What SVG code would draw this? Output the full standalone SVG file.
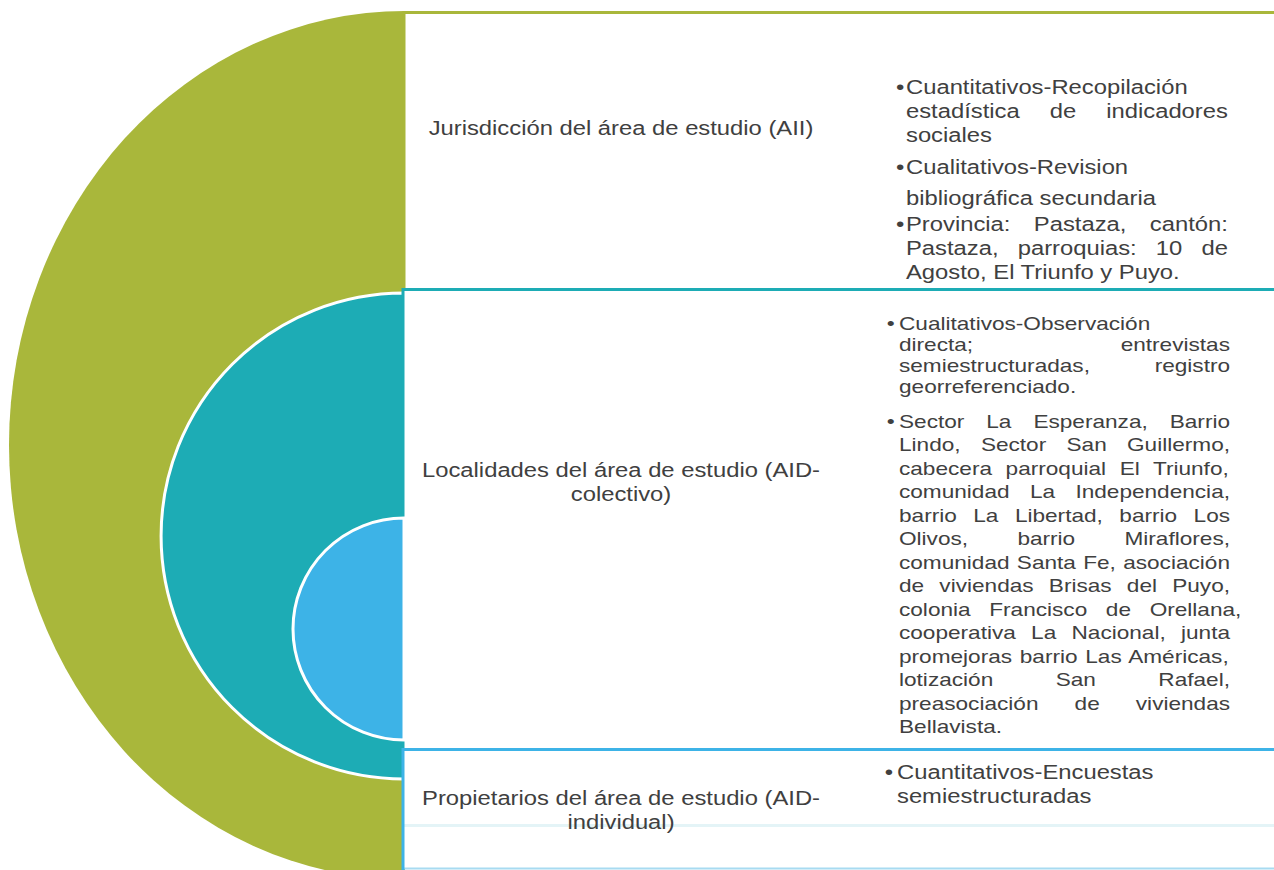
<svg xmlns="http://www.w3.org/2000/svg" width="1274" height="870" viewBox="0 0 1274 870">
  <style>
    text { font-family: "Liberation Sans", Arial, sans-serif; fill: #404040; }
    .lbl { font-size: 20px; text-anchor: middle; }
    .t20 { font-size: 20px; }
    .t19 { font-size: 19px; }
    .ring { stroke: #FFFFFF; stroke-width: 3; }
  </style>
  <rect x="0" y="0" width="1274" height="870" fill="#FFFFFF"/>

  <g id="node-aii">
    <path d="M405,11 A396,434 0 0 0 405,879 Z" fill="#A9B73B"/>
    <rect x="404" y="12.5" width="900" height="277" fill="#FFFFFF" stroke="#A9B73B" stroke-width="3"/>
    <g transform="translate(621 0) scale(1.19 1)">
      <text class="lbl" x="0" y="135">Jurisdicción del área de estudio (AII)</text>
    </g>
    <g transform="translate(906 0) scale(1.19 1)">
      <text class="t20" x="-8.5" y="94">•</text>
      <text class="t20" x="0" y="94">Cuantitativos-Recopilación</text>
      <text class="t20" x="0" y="118" word-spacing="19.69">estadística de indicadores</text>
      <text class="t20" x="0" y="142">sociales</text>
      <text class="t20" x="-8.5" y="174">•</text>
      <text class="t20" x="0" y="174">Cualitativos-Revision</text>
      <text class="t20" x="0" y="205">bibliográfica secundaria</text>
      <text class="t20" x="-8.5" y="231">•</text>
      <text class="t20" x="0" y="231" word-spacing="14.14">Provincia: Pastaza, cantón:</text>
      <text class="t20" x="0" y="255" word-spacing="10.54">Pastaza, parroquias: 10 de</text>
      <text class="t20" x="0" y="279">Agosto, El Triunfo y Puyo.</text>
    </g>
  </g>

  <g id="node-aid-colectivo">
    <path class="ring" d="M404,293 A243,243 0 0 0 404,779 Z" fill="#1DACB5"/>
    <rect x="403" y="289.5" width="900" height="460" fill="#FFFFFF" stroke="#1DACB5" stroke-width="3"/>
    <g transform="translate(621 0) scale(1.19 1)">
      <text class="lbl" x="0" y="477">Localidades del área de estudio (AID-</text>
      <text class="lbl" x="0" y="501">colectivo)</text>
    </g>
    <g transform="translate(899 0) scale(1.19 1)">
      <text class="t19" x="-10.4" y="330">•</text>
      <text class="t19" x="0" y="330">Cualitativos-Observación</text>
      <text class="t19" x="0" y="351" word-spacing="118.7">directa; entrevistas</text>
      <text class="t19" x="0" y="372" word-spacing="49.1">semiestructuradas, registro</text>
      <text class="t19" x="0" y="393">georreferenciado.</text>
      <text class="t19" x="-10.4" y="428">•</text>
      <text class="t19" x="0" y="428" word-spacing="13.19">Sector La Esperanza, Barrio</text>
      <text class="t19" x="0" y="451.5" word-spacing="11.79">Lindo, Sector San Guillermo,</text>
      <text class="t19" x="0" y="475" word-spacing="6.15">cabecera parroquial El Triunfo,</text>
      <text class="t19" x="0" y="498.5" word-spacing="11.82">comunidad La Independencia,</text>
      <text class="t19" x="0" y="522" word-spacing="8.57">barrio La Libertad, barrio Los</text>
      <text class="t19" x="0" y="545.5" word-spacing="36.17">Olivos, barrio Miraflores,</text>
      <text class="t19" x="0" y="569" word-spacing="0.85">comunidad Santa Fe, asociación</text>
      <text class="t19" x="0" y="592.5" word-spacing="7.52">de viviendas Brisas del Puyo,</text>
      <text class="t19" x="0" y="616" word-spacing="10.39">colonia Francisco de Orellana,</text>
      <text class="t19" x="0" y="639.5" word-spacing="7.55">cooperativa La Nacional, junta</text>
      <text class="t19" x="0" y="663" word-spacing="1.22">promejoras barrio Las Américas,</text>
      <text class="t19" x="0" y="686.5" word-spacing="47.2">lotización San Rafael,</text>
      <text class="t19" x="0" y="710" word-spacing="25.07">preasociación de viviendas</text>
      <text class="t19" x="0" y="733.5">Bellavista.</text>
    </g>
  </g>

  <g id="node-aid-individual">
    <path class="ring" d="M404,518 A111,111 0 0 0 404,740 Z" fill="#3DB3E7"/>
    <rect x="403" y="749.5" width="900" height="119" fill="#FFFFFF"/>
    <line x1="404" y1="825.5" x2="1274" y2="825.5" stroke="#E4F4F7" stroke-width="3"/>
    <line x1="404" y1="868.5" x2="1274" y2="868.5" stroke="#A8DBF1" stroke-width="2"/>
    <path d="M403,870 V749.5 H1274" fill="none" stroke="#3DB3E7" stroke-width="3"/>
    <g transform="translate(621 0) scale(1.19 1)">
      <text class="lbl" x="0" y="805">Propietarios del área de estudio (AID-</text>
      <text class="lbl" x="0" y="829">individual)</text>
    </g>
    <g transform="translate(897 0) scale(1.19 1)">
      <text class="t20" x="-10.2" y="779">•</text>
      <text class="t20" x="0" y="779">Cuantitativos-Encuestas</text>
      <text class="t20" x="0" y="803">semiestructuradas</text>
    </g>
  </g>

  <g id="connectors"></g>
</svg>
